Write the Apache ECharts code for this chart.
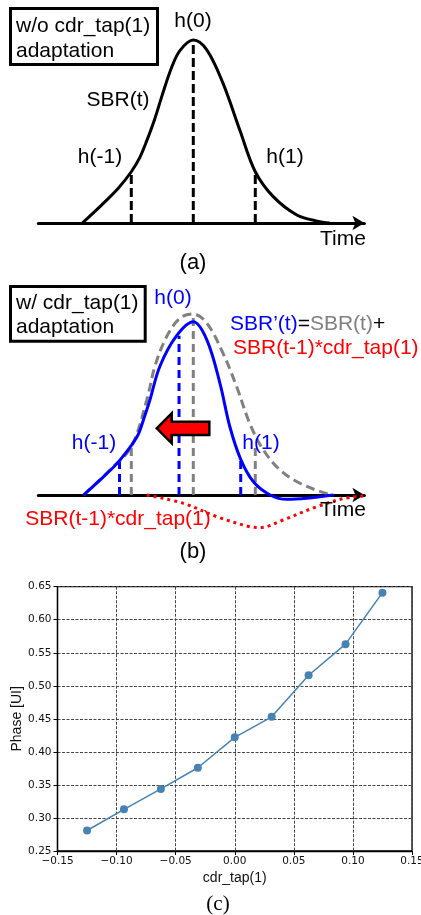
<!DOCTYPE html>
<html><head><meta charset="utf-8">
<script src="https://cdn.jsdelivr.net/npm/echarts@6/dist/echarts.min.js"></script>
<style>html,body{margin:0;padding:0;background:#fff}#c{width:421px;height:915px}</style>
</head><body><div id="c"></div>
<script>
// ---------- Panel (a): SBR(t) pulse, time in UI, amplitude normalised ----------
const sbrT = [-1.79, -1.48, -1.21, -1.00, -0.86, -0.75, -0.62, -0.50, -0.35, -0.21, 0, 0.22, 0.48, 0.75, 1.00, 1.29, 1.67, 2.00, 2.20];
const sbrA = [0, 0.098, 0.19, 0.28, 0.36, 0.45, 0.57, 0.70, 0.85, 0.945, 1.00, 0.945, 0.763, 0.508, 0.28, 0.144, 0.044, 0.01, 0];
const cursorT_a = [-1, 0, 1];
const cursorH_a = [0.28, 1.00, 0.28];

// ---------- Panel (b) ----------
const grayT = [-1.77, -1.34, -1.00, -0.75, -0.62, -0.43, -0.21, 0, 0.22, 0.48, 0.70, 0.91, 1.13, 1.40, 1.72, 2.10, 2.26];
const grayA = [0, 0.14, 0.267, 0.525, 0.71, 0.875, 0.978, 1.00, 0.949, 0.783, 0.598, 0.396, 0.249, 0.138, 0.065, 0.013, 0];
const blueT = [-1.77, -1.45, -1.19, -0.91, -0.79, -0.70, -0.54, -0.28, 0, 0.22, 0.43, 0.59, 0.765, 0.97, 1.24, 1.51, 1.83, 2.26];
const blueA = [0, 0.10, 0.19, 0.32, 0.43, 0.525, 0.71, 0.875, 0.957, 0.856, 0.617, 0.377, 0.197, 0.073, 0, -0.024, -0.018, 0];
const redT = [-0.75, -0.16, 0.38, 0.91, 1.08, 1.45, 1.99, 2.53, 3.23];
const redA = [0, -0.046, -0.12, -0.175, -0.18, -0.138, -0.065, -0.013, 0];
const cursorT_gray = [-1, 0, 1];
const cursorH_gray = [0.267, 1.00, 0.27];
const cursorT_blue = [-1.19, -0.23, 0.765];
const cursorH_blue = [0.19, 0.88, 0.20];

// ---------- Panel (c): Phase vs cdr_tap(1) ----------
const tapX = [-0.125, -0.09375, -0.0625, -0.03125, 0, 0.03125, 0.0625, 0.09375, 0.125];
const phaseUI = [0.281, 0.313, 0.344, 0.376, 0.422, 0.453, 0.516, 0.563, 0.641];
const xTicksC = { min: -0.15, max: 0.15, step: 0.05 };
const yTicksC = { min: 0.25, max: 0.65, step: 0.05 };

const FONT = '"Liberation Sans", Arial, sans-serif';
const zip = (xs, ys) => xs.map((x, i) => [x, ys[i]]);

function cursors(ts, hs, gi, color, dash) {
  return ts.map((t, i) => ({
    type: 'line', xAxisIndex: gi, yAxisIndex: gi, data: [[t, 0], [t, hs[i]]],
    symbol: 'none', clip: false, silent: true, z: 3,
    lineStyle: { color: color, width: 3, type: dash }
  }));
}

function diagramAxes(gi) {
  return {
    x: {
      gridIndex: gi, type: 'value', min: -2.5, max: 2.76,
      axisLine: { show: true, symbol: ['none', 'arrow'], symbolSize: [11, 12], lineStyle: { color: '#000', width: 3 } },
      axisTick: { show: false }, axisLabel: { show: false }, splitLine: { show: false }
    },
    y: { gridIndex: gi, type: 'value', min: 0, max: 1, show: false, splitLine: { show: false } }
  };
}
const axA = diagramAxes(0), axB = diagramAxes(1);

const chart = echarts.init(document.getElementById('c'), null, { renderer: 'canvas' });

const curve = (t, a, gi, color, width, type, z) => ({
  type: 'line', xAxisIndex: gi, yAxisIndex: gi, data: zip(t, a), smooth: 0.35,
  symbol: 'none', clip: false, z: z, lineStyle: { color: color, width: width, type: type }
});

const option = {
  backgroundColor: '#fff',
  animation: false,
  grid: [
    { left: 38.3, top: 40, width: 326.1, height: 183, containLabel: false, outerBoundsMode: 'none' },
    { left: 38.3, top: 314, width: 326.1, height: 181, containLabel: false, outerBoundsMode: 'none' },
    { left: 57.5, top: 586.7, width: 354.5, height: 264.3, containLabel: false, outerBoundsMode: 'none',
      show: true, borderColor: '#000', borderWidth: 1.3, backgroundColor: 'transparent' }
  ],
  xAxis: [
    axA.x, axB.x,
    {
      gridIndex: 2, type: 'value', min: xTicksC.min, max: xTicksC.max, interval: xTicksC.step,
      name: 'cdr_tap(1)', nameLocation: 'middle', nameGap: 20, nameMoveOverlap: false,
      nameTextStyle: { fontFamily: FONT, fontSize: 14, color: '#111' },
      axisLine: { show: true, onZero: false, lineStyle: { color: '#000', width: 1.3 } },
      axisTick: { show: true, length: 4, lineStyle: { color: '#000', width: 1 } },
      axisLabel: { fontFamily: '"DejaVu Sans", sans-serif', fontSize: 10.5, color: '#111', margin: 5,
        formatter: v => v.toFixed(2).replace('-', '\u2212') },
      splitLine: { show: true, lineStyle: { color: '#444', width: 1, type: [3, 1.5] } }
    }
  ],
  yAxis: [
    axA.y, axB.y,
    {
      gridIndex: 2, type: 'value', min: yTicksC.min, max: yTicksC.max, interval: yTicksC.step,
      name: 'Phase [UI]', nameLocation: 'middle', nameGap: 33, nameRotate: 90, nameMoveOverlap: false,
      nameTextStyle: { fontFamily: FONT, fontSize: 14, color: '#111' },
      axisLine: { show: true, onZero: false, lineStyle: { color: '#000', width: 1.3 } },
      axisTick: { show: true, length: 4, lineStyle: { color: '#000', width: 1 } },
      axisLabel: { fontFamily: '"DejaVu Sans", sans-serif', fontSize: 10.5, color: '#111', margin: 6,
        formatter: v => v.toFixed(2) },
      splitLine: { show: true, lineStyle: { color: '#444', width: 1, type: [3, 1.5] } }
    }
  ],
  series: [
    // panel (a)
    curve(sbrT, sbrA, 0, '#000', 3, 'solid', 4),
    ...cursors(cursorT_a, cursorH_a, 0, '#000', [9, 4]),
    // panel (b)
    curve(redT, redA, 1, '#ff0000', 3, [3, 4], 2),
    ...cursors(cursorT_gray, cursorH_gray, 1, '#808080', [8, 5]),
    ...cursors(cursorT_blue, cursorH_blue, 1, '#0000ff', [8, 5]),
    curve(grayT, grayA, 1, '#808080', 3, [9, 5], 4),
    curve(blueT, blueA, 1, '#0000ff', 3, 'solid', 5),
    // panel (c)
    { type: 'line', xAxisIndex: 2, yAxisIndex: 2, data: zip(tapX, phaseUI),
      symbol: 'circle', symbolSize: 8, z: 6,
      itemStyle: { color: '#4682b4' }, lineStyle: { color: '#4682b4', width: 1.5 } }
  ],
  graphic: [
    // panel (a) annotations
    { type: 'rect', shape: { x: 10.5, y: 8.5, width: 147, height: 56 }, style: { fill: '#fff', stroke: '#000', lineWidth: 3 }, z: 10 },
    { type: 'text', x: 16, y: 26, z: 11, style: { text: 'w/o cdr_tap(1)', font: '21px ' + FONT, fill: '#000', verticalAlign: 'middle' } },
    { type: 'text', x: 16, y: 51, z: 11, style: { text: 'adaptation', font: '21px ' + FONT, fill: '#000', verticalAlign: 'middle' } },
    { type: 'text', x: 193, y: 21, z: 11, style: { text: 'h(0)', font: '21px ' + FONT, fill: '#000', align: 'center', verticalAlign: 'middle' } },
    { type: 'text', x: 118, y: 100, z: 11, style: { text: 'SBR(t)', font: '21px ' + FONT, fill: '#000', align: 'center', verticalAlign: 'middle' } },
    { type: 'text', x: 100, y: 157, z: 11, style: { text: 'h(-1)', font: '21px ' + FONT, fill: '#000', align: 'center', verticalAlign: 'middle' } },
    { type: 'text', x: 285, y: 157, z: 11, style: { text: 'h(1)', font: '21px ' + FONT, fill: '#000', align: 'center', verticalAlign: 'middle' } },
    { type: 'text', x: 343, y: 239, z: 11, style: { text: 'Time', font: '21px ' + FONT, fill: '#000', align: 'center', verticalAlign: 'middle' } },
    { type: 'text', x: 193, y: 263, z: 11, style: { text: '(a)', font: '22px ' + FONT, fill: '#000', align: 'center', verticalAlign: 'middle' } },
    // panel (b) annotations
    { type: 'rect', shape: { x: 10.5, y: 286.5, width: 134.7, height: 54.7 }, style: { fill: '#fff', stroke: '#000', lineWidth: 3 }, z: 10 },
    { type: 'text', x: 16, y: 303, z: 11, style: { text: 'w/ cdr_tap(1)', font: '21px ' + FONT, fill: '#000', verticalAlign: 'middle' } },
    { type: 'text', x: 16, y: 327, z: 11, style: { text: 'adaptation', font: '21px ' + FONT, fill: '#000', verticalAlign: 'middle' } },
    { type: 'text', x: 173, y: 298, z: 11, style: { text: 'h(0)', font: '21px ' + FONT, fill: '#0000ff', align: 'center', verticalAlign: 'middle' } },
    { type: 'text', x: 230, y: 324, z: 11, style: {
        text: '{b|SBR\u2019(t)}{k|=}{g|SBR(t)}{k|+}', verticalAlign: 'middle', font: '21px ' + FONT,
        rich: { b: { fill: '#0000ff', font: '21px ' + FONT }, k: { fill: '#000', font: '21px ' + FONT }, g: { fill: '#808080', font: '21px ' + FONT } } } },
    { type: 'text', x: 233, y: 348, z: 11, style: { text: 'SBR(t-1)*cdr_tap(1)', font: '21px ' + FONT, fill: '#ff0000', verticalAlign: 'middle' } },
    { type: 'text', x: 94, y: 443, z: 11, style: { text: 'h(-1)', font: '21px ' + FONT, fill: '#0000ff', align: 'center', verticalAlign: 'middle' } },
    { type: 'text', x: 261, y: 443, z: 11, style: { text: 'h(1)', font: '21px ' + FONT, fill: '#0000ff', align: 'center', verticalAlign: 'middle' } },
    { type: 'text', x: 343, y: 510, z: 11, style: { text: 'Time', font: '21px ' + FONT, fill: '#000', align: 'center', verticalAlign: 'middle' } },
    { type: 'text', x: 118, y: 519, z: 11, style: { text: 'SBR(t-1)*cdr_tap(1)', font: '21px ' + FONT, fill: '#ff0000', align: 'center', verticalAlign: 'middle' } },
    { type: 'polygon', z: 12, shape: { points: [[156.7, 428.3], [171.7, 413.3], [171.7, 421.7], [209.3, 421.7], [209.3, 435], [171.7, 435], [171.7, 443.3]] },
      style: { fill: '#ff0000', stroke: '#000', lineWidth: 2.5, lineJoin: 'miter' } },
    { type: 'text', x: 193, y: 552, z: 11, style: { text: '(b)', font: '22px ' + FONT, fill: '#000', align: 'center', verticalAlign: 'middle' } },
    // panel (c)
    { type: 'text', x: 218, y: 904, z: 11, style: { text: '(c)', font: '21px "Liberation Serif", "Times New Roman", serif', fill: '#000', align: 'center', verticalAlign: 'middle' } }
  ]
};
chart.setOption(option);
</script></body></html>
